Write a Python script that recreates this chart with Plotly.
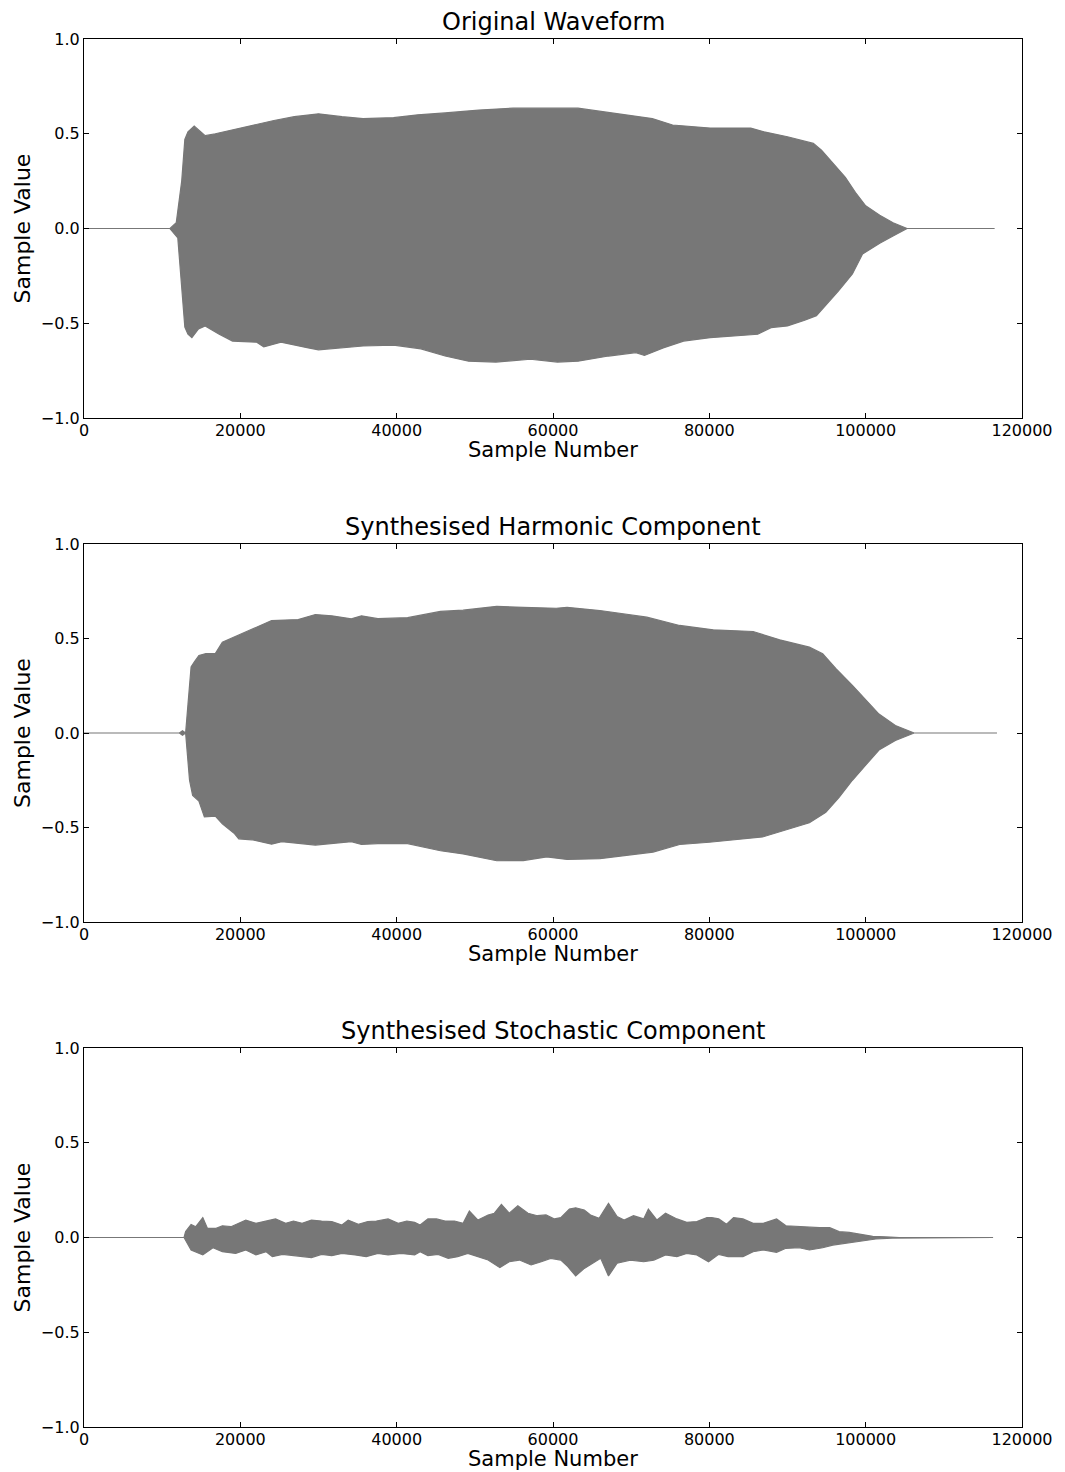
import plotly.graph_objects as go

# ---------------- data (envelopes) ----------------
# Original waveform
orig_up_x = [0, 11000, 11800, 12500, 12900, 13300, 14100, 14650, 15500, 16800,
             19900, 22500, 24300, 26900, 30000, 33000, 35700, 39600, 42700, 46200,
             50500, 54900, 56650, 60570, 63200, 66200, 69700, 72700, 75300, 80100,
             85300, 87000, 90000, 93300, 94350, 95700, 97400, 98700, 100000, 101800,
             103500, 105300, 116500]
orig_up_y = [0, 0, 0.03, 0.25, 0.47, 0.51, 0.54, 0.52, 0.49, 0.50,
             0.53, 0.555, 0.57, 0.59, 0.605, 0.59, 0.58, 0.585, 0.60, 0.61,
             0.625, 0.635, 0.634, 0.635, 0.635, 0.617, 0.595, 0.58, 0.546, 0.53,
             0.53, 0.51, 0.484, 0.449, 0.413, 0.35, 0.27, 0.19, 0.12, 0.07,
             0.03, 0.0, 0.0]
orig_lo_x = [0, 11000, 12000, 12500, 12900, 13300, 13800, 14650, 15500, 17300,
             19000, 22100, 23000, 25200, 28700, 30000, 32200, 35700, 39600, 43100,
             46200, 49200, 52700, 57100, 60570, 63200, 67100, 70600, 71700, 74100,
             76700, 80100, 86200, 87900, 90000, 92200, 93700, 94800, 96500, 98300,
             99600, 101800, 103500, 105300, 116500]
orig_lo_y = [0, 0, -0.05, -0.3, -0.52, -0.558, -0.576, -0.53, -0.514, -0.558,
             -0.594, -0.60, -0.625, -0.60, -0.63, -0.64, -0.63, -0.62, -0.615, -0.635,
             -0.673, -0.70, -0.705, -0.69, -0.705, -0.70, -0.673, -0.655, -0.67, -0.63,
             -0.594, -0.576, -0.558, -0.523, -0.514, -0.484, -0.46, -0.41, -0.33, -0.24,
             -0.134, -0.078, -0.04, 0, 0]

# Synthesised harmonic component
harm_up_x = [0, 12200, 12600, 13000, 13300, 13700, 14100, 14700, 15600, 16800,
             17700, 19200, 21500, 24000, 27400, 29600, 31700, 34200, 35500, 37600,
             41400, 45600, 48500, 52800, 56200, 60400, 61800, 66000, 72000, 76200,
             80500, 85600, 89000, 92800, 94500, 96200, 98300, 100000, 101700, 103800,
             106200, 116800]
harm_up_y = [0, 0, 0.012, 0.0, 0.15, 0.35, 0.375, 0.41, 0.42, 0.42,
             0.48, 0.507, 0.55, 0.595, 0.60, 0.627, 0.62, 0.604, 0.62, 0.605,
             0.61, 0.643, 0.65, 0.67, 0.665, 0.66, 0.665, 0.648, 0.613, 0.569,
             0.546, 0.537, 0.493, 0.454, 0.419, 0.34, 0.252, 0.176, 0.10, 0.04,
             0.0, 0.0]
harm_lo_x = [0, 12200, 12600, 13000, 13500, 13900, 14700, 15400, 16800, 17700,
             19200, 19800, 21500, 24000, 25300, 29600, 34200, 35500, 37600, 41400,
             45600, 48500, 52800, 56200, 59200, 61800, 66000, 72800, 76200, 80000,
             86800, 89000, 92800, 94900, 96600, 98300, 100000, 101700, 103800, 106200,
             116800]
harm_lo_y = [0, 0, -0.012, 0, -0.25, -0.33, -0.36, -0.444, -0.44, -0.48,
             -0.53, -0.56, -0.565, -0.588, -0.575, -0.593, -0.575, -0.59, -0.585, -0.585,
             -0.623, -0.64, -0.676, -0.675, -0.656, -0.669, -0.665, -0.63, -0.59, -0.578,
             -0.55, -0.52, -0.475, -0.42, -0.34, -0.25, -0.17, -0.09, -0.04, 0,
             0]

# Synthesised stochastic component
stoc_up_x = [0, 12800, 13000, 13700, 14300, 15200, 15800, 16900, 17700, 18800,
             19800, 20700, 22000, 23300, 24500, 25800, 26800, 27900, 29100, 30400,
             31700, 33000, 33800, 35100, 36300, 37400, 38900, 40200, 41300, 42300,
             43000, 44000, 45100, 46200, 47400, 48500, 49300, 50400, 51700, 52500,
             53400, 54400, 55500, 56800, 58000, 59100, 60200, 61000, 62100, 62900,
             64000, 64800, 65900, 67100, 68200, 69100, 70300, 71600, 72200, 73300,
             74400, 75850, 77100, 78400, 79700, 80300, 81200, 82200, 83100, 84300,
             85600, 86900, 88600, 89800, 91500, 92800, 94100, 95400, 96600, 97900,
             99200, 100900, 102600, 104300, 116300]
stoc_up_y = [0, 0, 0.031, 0.069, 0.057, 0.105, 0.048, 0.048, 0.062, 0.057,
             0.075, 0.092, 0.075, 0.087, 0.098, 0.075, 0.087, 0.075, 0.092, 0.087,
             0.084, 0.066, 0.092, 0.070, 0.084, 0.087, 0.098, 0.075, 0.087, 0.080,
             0.066, 0.098, 0.098, 0.087, 0.087, 0.075, 0.140, 0.092, 0.119, 0.128,
             0.175, 0.128, 0.168, 0.128, 0.115, 0.119, 0.098, 0.105, 0.150, 0.157,
             0.145, 0.119, 0.101, 0.180, 0.110, 0.092, 0.115, 0.098, 0.150, 0.092,
             0.128, 0.098, 0.080, 0.084, 0.105, 0.105, 0.098, 0.070, 0.105, 0.098,
             0.075, 0.075, 0.098, 0.062, 0.057, 0.057, 0.052, 0.052, 0.031, 0.027,
             0.017, 0.006, 0.003, 0, 0]
stoc_lo_x = [0, 12800, 13000, 13700, 15200, 16500, 17700, 19400, 20700, 22000,
             23300, 24100, 25400, 26600, 27900, 29100, 30400, 31700, 33000, 34700,
             36100, 37600, 38900, 40600, 42300, 43000, 44000, 45300, 46600, 47800,
             49100, 50400, 51700, 53200, 54400, 55700, 57200, 58500, 59700, 61000,
             61900, 62900, 64000, 65000, 66100, 67100, 68200, 69900, 71600, 72900,
             74400, 75850, 77100, 78400, 79900, 81200, 82400, 84300, 85600, 86900,
             88600, 89800, 91500, 92800, 94500, 95800, 97100, 98300, 99600, 101300,
             103400, 105100, 116300]
stoc_lo_y = [0, 0, -0.02, -0.066, -0.092, -0.054, -0.075, -0.084, -0.066, -0.092,
             -0.075, -0.101, -0.089, -0.096, -0.101, -0.106, -0.089, -0.096, -0.084, -0.092,
             -0.101, -0.084, -0.092, -0.084, -0.092, -0.075, -0.096, -0.089, -0.110, -0.101,
             -0.084, -0.101, -0.119, -0.159, -0.128, -0.119, -0.145, -0.128, -0.110, -0.119,
             -0.154, -0.203, -0.163, -0.136, -0.110, -0.203, -0.136, -0.119, -0.128, -0.119,
             -0.092, -0.101, -0.084, -0.092, -0.128, -0.089, -0.101, -0.101, -0.075, -0.066,
             -0.078, -0.057, -0.054, -0.066, -0.054, -0.040, -0.036, -0.027, -0.018, -0.008,
             -0.003, 0, 0]

titles = ["Original Waveform", "Synthesised Harmonic Component",
          "Synthesised Stochastic Component"]
x_ticks = [0, 20000, 40000, 60000, 80000, 100000, 120000]
y_ticks = [-1.0, -0.5, 0.0, 0.5, 1.0]
x_label = "Sample Number"
y_label = "Sample Value"

panels = [
    (orig_up_x, orig_up_y, orig_lo_x, orig_lo_y),
    (harm_up_x, harm_up_y, harm_lo_x, harm_lo_y),
    (stoc_up_x, stoc_up_y, stoc_lo_x, stoc_lo_y),
]

# ---------------- layout geometry ----------------
W, H = 1065, 1472
ML, MR, MT, MB = 84, 38, 39, 45
plot_h = H - MT - MB
panel_px = [(39, 418), (544, 922), (1048, 1427)]
domains = [[1 - (b - MT) / plot_h, 1 - (t - MT) / plot_h] for t, b in panel_px]

WAVE = "#777777"
FONT = "DejaVu Sans"

fig = go.Figure()
annotations = []
for i, (ux, uy, lx, ly) in enumerate(panels):
    suf = "" if i == 0 else str(i + 1)
    px = list(ux) + list(reversed(lx))
    py = list(uy) + list(reversed(ly))
    fig.add_trace(go.Scatter(
        x=px, y=py, mode="lines", fill="toself", fillcolor=WAVE,
        line=dict(color=WAVE, width=1.2), hoverinfo="skip", showlegend=False,
        xaxis="x" + suf, yaxis="y" + suf))

    axis_common = dict(showline=True, linecolor="black", linewidth=1.2,
                       mirror="ticks", ticks="inside", ticklen=5, tickwidth=1,
                       tickcolor="black", showgrid=False, zeroline=False,
                       tickfont=dict(family=FONT, size=16, color="black"))
    fig.layout["xaxis" + suf] = dict(
        domain=[0, 1], range=[0, 120000], tickvals=x_ticks,
        ticktext=[str(v) for v in x_ticks], anchor="y" + suf,
        ticklabelstandoff=-2, **axis_common)
    fig.layout["yaxis" + suf] = dict(
        domain=domains[i], range=[-1, 1], tickvals=y_ticks,
        ticktext=[("\u2212" if v < 0 else "") + f"{abs(v):.1f}" for v in y_ticks],
        anchor="x" + suf, **axis_common)

    top, bot = panel_px[i]
    # panel title
    annotations.append(dict(text=titles[i], xref="paper", yref="paper",
                            x=0.5, y=1 - (top - MT) / plot_h, xanchor="center",
                            yanchor="bottom", yshift=1, showarrow=False,
                            font=dict(family=FONT, size=24, color="black")))
    # x axis label
    annotations.append(dict(text=x_label, xref="paper", yref="paper",
                            x=0.5, y=1 - (bot - MT) / plot_h, xanchor="center",
                            yanchor="middle", yshift=-32, showarrow=False,
                            font=dict(family=FONT, size=21, color="black")))
    # y axis label
    annotations.append(dict(text=y_label, xref="paper", yref="paper",
                            x=0, y=1 - ((top + bot) / 2 - MT) / plot_h,
                            xanchor="center", yanchor="middle", xshift=-62,
                            textangle=-90, showarrow=False,
                            font=dict(family=FONT, size=22, color="black")))

fig.update_layout(
    width=W, height=H, margin=dict(l=ML, r=MR, t=MT, b=MB),
    paper_bgcolor="white", plot_bgcolor="white",
    annotations=annotations, showlegend=False,
    font=dict(family=FONT, color="black"))

fig.write_html("out.html", config={"displayModeBar": False})
